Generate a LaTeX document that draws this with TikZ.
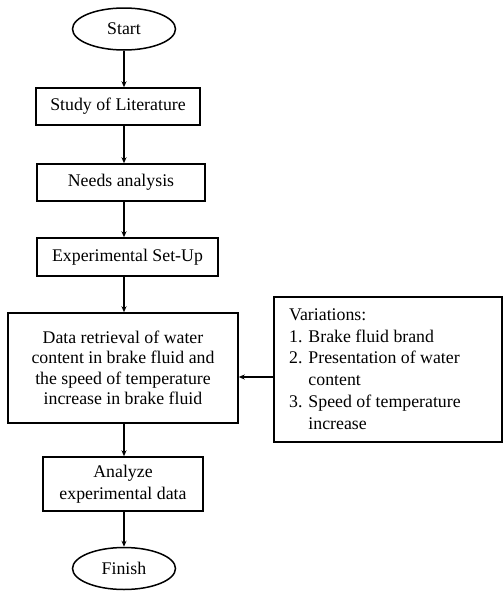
\documentclass[tikz,border=0pt]{standalone}
\usepackage{fontspec}
\setmainfont{Liberation Serif}
\usetikzlibrary{shapes.geometric,arrows.meta}
\begin{document}
\begin{tikzpicture}[x=1pt,y=-1pt,
  every node/.style={font=\fontsize{17.8}{20.5}\selectfont},
  terminal/.style={draw,ellipse,line width=1.5pt,inner sep=0pt,minimum width=103pt,minimum height=42pt},
  stepbox/.style={draw,rectangle,line width=1.5pt,inner sep=0pt,align=center},
  flow/.style={line width=1.5pt,-{Stealth[length=6pt,width=5pt]}}]
\useasboundingbox (0,0) rectangle (503,592);
\node[terminal] (start) at (124,29) {Start};
\node[stepbox,minimum width=164pt,minimum height=37pt] (study) at (118,106.5) {Study of Literature};
\node[stepbox,minimum width=168pt,minimum height=37pt] (needs) at (121,182.5) {Needs analysis};
\node[stepbox,minimum width=181pt,minimum height=38pt] (exp) at (127.5,257) {Experimental Set-Up};
\node[stepbox,minimum width=230pt,minimum height=110pt] (data) at (123,368) {Data retrieval of water\\content in brake fluid and\\the speed of temperature\\increase in brake fluid};
\node[stepbox,minimum width=160pt,minimum height=54pt,font=\fontsize{17.8}{21.5}\selectfont] (anal) at (123,484) {Analyze\\experimental data};
\node[terminal] (finish) at (124,568.5) {Finish};
\node[draw,rectangle,line width=1.5pt,inner sep=0pt,minimum width=228pt,minimum height=145pt] (var) at (388,369.5) {};
\node[anchor=west,align=left,inner sep=0pt,font=\fontsize{17.8}{21.8}\selectfont] (vartext) at (289,369) {Variations:\\1. Brake fluid brand\\2. Presentation of water\\\phantom{2. }content\\3. Speed of temperature\\\phantom{3. }increase};
\coordinate (ax) at (124,0);
\draw[flow] (start.south) -- (ax |- study.north);
\draw[flow] (ax |- study.south) -- (ax |- needs.north);
\draw[flow] (ax |- needs.south) -- (ax |- exp.north);
\draw[flow] (ax |- exp.south) -- (ax |- data.north);
\draw[flow] (ax |- data.south) -- (ax |- anal.north);
\draw[flow] (ax |- anal.south) -- (finish.north);
\draw[flow] (var.west |- 0,377) -- (data.east |- 0,377);
\end{tikzpicture}
\end{document}
